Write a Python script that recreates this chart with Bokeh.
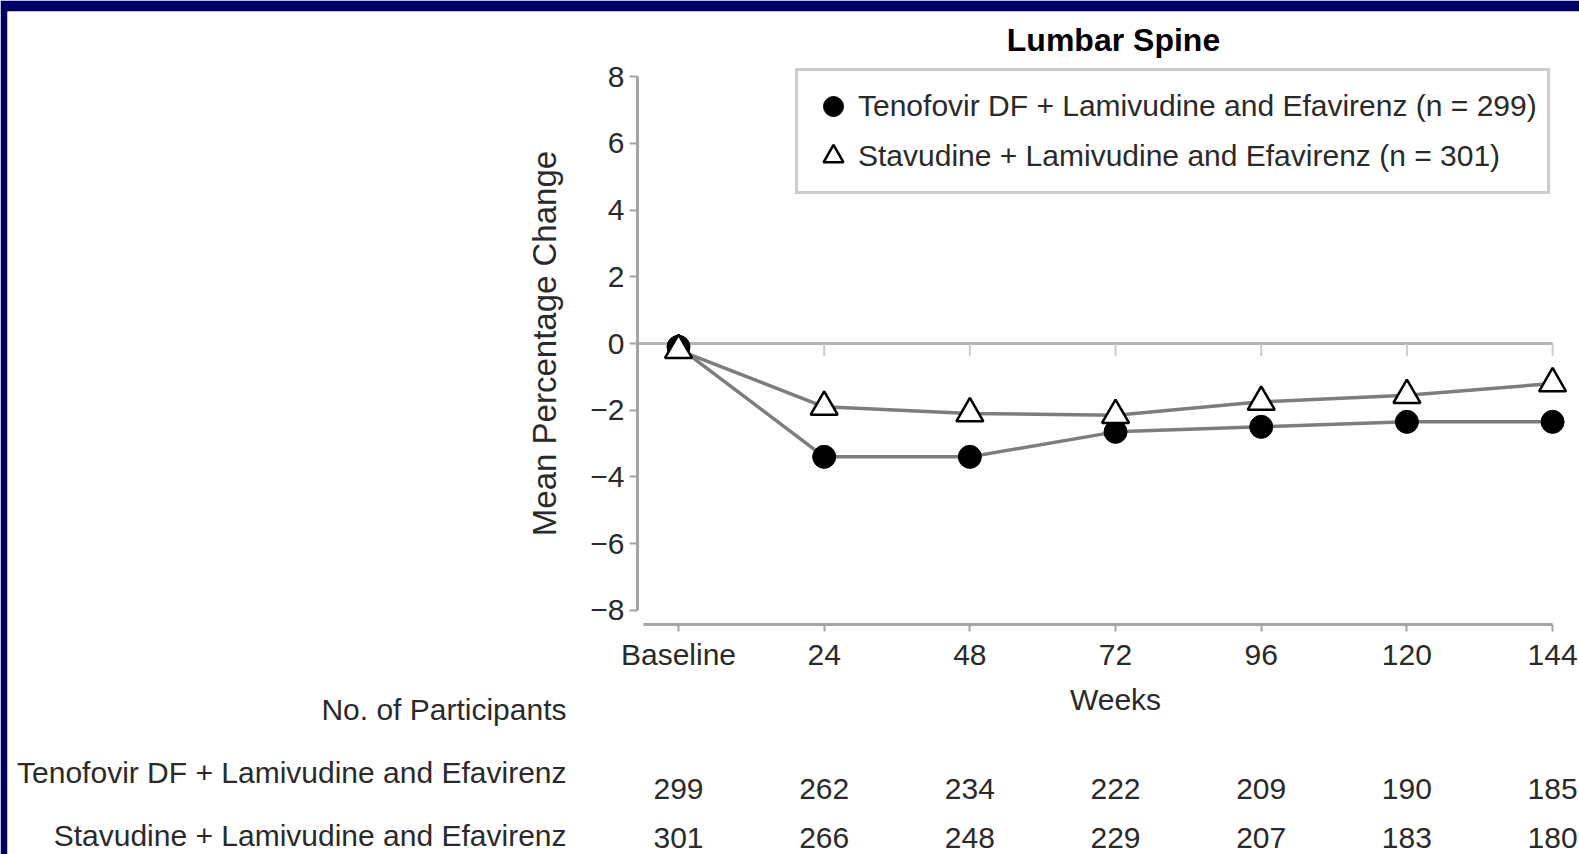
from bokeh.plotting import figure
from bokeh.models import (ColumnDataSource, Label, LabelSet, Legend, LegendItem,
                          FixedTicker, LinearAxis)
from bokeh.core.properties import value
from bokeh.embed import file_html
from bokeh.resources import INLINE

# ---------------- data ----------------
weeks = [0, 24, 48, 72, 96, 120, 144]
week_labels = ["Baseline", "24", "48", "72", "96", "120", "144"]
tenofovir = [-0.1, -3.4, -3.4, -2.65, -2.5, -2.35, -2.35]
stavudine = [-0.2, -1.9, -2.1, -2.15, -1.75, -1.55, -1.2]
n_tenofovir = [299, 262, 234, 222, 209, 190, 185]
n_stavudine = [301, 266, 248, 229, 207, 183, 180]
y_ticks = [-8, -6, -4, -2, 0, 2, 4, 6, 8]
y_tick_labels = ["\u22128", "\u22126", "\u22124", "\u22122", "0", "2", "4", "6", "8"]
name_tenofovir = "Tenofovir DF + Lamivudine and Efavirenz"
name_stavudine = "Stavudine + Lamivudine and Efavirenz"
legend_tenofovir = "Tenofovir DF + Lamivudine and Efavirenz (n = 299)"
legend_stavudine = "Stavudine + Lamivudine and Efavirenz (n = 301)"
title_text = "Lumbar Spine"
y_title = "Mean Percentage Change"
x_title = "Weeks"
table_title = "No. of Participants"

# ---------------- style / layout (pixels) ----------------
FONT = "Liberation Sans"
FS = "30px"
TXT = "#2a2a2a"
AXIS_GRAY = "#a4a4a4"
LINE_GRAY = "#7d7d7d"
NAVY = "#000066"

W, H = 1579, 854
BORDER_L, BORDER_T = 7, 11
X0_PX, PX_PER_WEEK = 678.0, 6.07     # where week 0 sits, scale
Y0_PX, PX_PER_UNIT = 343.0, 33.34    # where 0 % sits, scale


def xd(px):
    return (px - X0_PX) / PX_PER_WEEK


def yd(py):
    return (Y0_PX - py) / PX_PER_UNIT


YAXIS_X = xd(637)
XAXIS_Y = yd(624)
XAXIS_START = xd(643)

p = figure(width=W, height=H, output_backend="svg", toolbar_location=None,
           x_range=(xd(BORDER_L), xd(W)), y_range=(yd(H), yd(BORDER_T)),
           x_axis_location=None, y_axis_location=None,
           min_border_left=BORDER_L, min_border_right=0, min_border_top=BORDER_T,
           min_border_bottom=0, background_fill_color="white",
           border_fill_color=NAVY)
p.outline_line_color = None
p.grid.grid_line_color = None


def style_axis(ax):
    ax.axis_line_color = AXIS_GRAY
    ax.axis_line_width = 3
    ax.major_tick_line_color = AXIS_GRAY
    ax.major_tick_line_width = 2
    ax.major_tick_in = 0
    ax.minor_tick_line_color = None
    ax.major_label_text_font = FONT
    ax.major_label_text_font_size = FS
    ax.major_label_text_color = TXT
    ax.axis_label_text_font = FONT
    ax.axis_label_text_font_size = FS
    ax.axis_label_text_font_style = "normal"
    ax.axis_label_text_color = TXT


xaxis = LinearAxis(fixed_location=XAXIS_Y, bounds=(XAXIS_START, weeks[-1]),
                   ticker=FixedTicker(ticks=weeks),
                   major_label_overrides={w: l for w, l in zip(weeks, week_labels)})
style_axis(xaxis)
xaxis.major_tick_out = 7
xaxis.major_label_standoff = 6
p.add_layout(xaxis, "below")

# axis carrying only the "Weeks" title, centred over the week span
xlabel_axis = LinearAxis(fixed_location=XAXIS_Y, bounds=(weeks[0], weeks[-1]),
                         ticker=FixedTicker(ticks=[]), axis_label=x_title)
style_axis(xlabel_axis)
xlabel_axis.axis_line_color = None
xlabel_axis.major_tick_out = 0
xlabel_axis.major_label_standoff = 0
xlabel_axis.axis_label_standoff = 58
p.add_layout(xlabel_axis, "below")

yaxis = LinearAxis(fixed_location=YAXIS_X, bounds=(-8, 8),
                   ticker=FixedTicker(ticks=y_ticks),
                   major_label_overrides={t: l for t, l in zip(y_ticks, y_tick_labels)},
                   axis_label=y_title)
style_axis(yaxis)
yaxis.major_tick_out = 8
yaxis.major_label_standoff = 5
yaxis.axis_label_standoff = 24
yaxis.axis_label_text_font_size = "33px"
p.add_layout(yaxis, "left")

# zero reference line and its small ticks
p.segment(x0=[YAXIS_X], x1=[weeks[-1]], y0=[0], y1=[0], line_color="#b4b4b4", line_width=3)
p.segment(x0=weeks[1:], x1=weeks[1:], y0=[0] * 6, y1=[-0.38] * 6,
          line_color="#cccccc", line_width=2)

src = ColumnDataSource(dict(week=weeks, ten=tenofovir, sta=stavudine,
                            nt=[str(v) for v in n_tenofovir],
                            ns=[str(v) for v in n_stavudine]))

p.line("week", "sta", source=src, line_color=LINE_GRAY, line_width=3.5)
p.line("week", "ten", source=src, line_color=LINE_GRAY, line_width=3.5)
r_ten = p.scatter("week", "ten", source=src, marker="circle", size=23,
                  fill_color="black", line_color="black")
r_sta = p.scatter("week", "sta", source=src, marker="triangle", size=27,
                  fill_color="white", line_color="black", line_width=2.5)

legend = Legend(items=[LegendItem(label=legend_tenofovir, renderers=[r_ten]),
                       LegendItem(label=legend_stavudine, renderers=[r_sta])],
                location=(788, 660))
legend.label_text_font = FONT
legend.label_text_font_size = FS
legend.label_text_color = TXT
legend.label_height = 30
legend.glyph_height = 50
legend.glyph_width = 50
legend.label_standoff = 0
legend.padding = 10
legend.spacing = -2
legend.margin = 0
legend.border_line_color = "#9a9a9a"
legend.border_line_width = 3
legend.background_fill_color = "white"
legend.background_fill_alpha = 1
p.add_layout(legend)

# title
p.add_layout(Label(x=xd(1113), y=yd(39), text=title_text,
                   text_font=FONT, text_font_size="32px", text_font_style="bold",
                   text_color="black", text_align="center", text_baseline="middle"))

# participants table
for txt, py in ((table_title, 709), (name_tenofovir, 772), (name_stavudine, 835)):
    p.add_layout(Label(x=xd(566), y=yd(py), text=txt,
                       text_font=FONT, text_font_size=FS, text_color=TXT,
                       text_align="right", text_baseline="middle"))
for col, py in (("nt", 788), ("ns", 837)):
    p.add_layout(LabelSet(x="week", y=yd(py), text=col, source=src,
                          text_font=value(FONT), text_font_size=value(FS),
                          text_color=TXT, text_align="center", text_baseline="middle"))

open("out.html", "w").write(file_html(p, INLINE))
